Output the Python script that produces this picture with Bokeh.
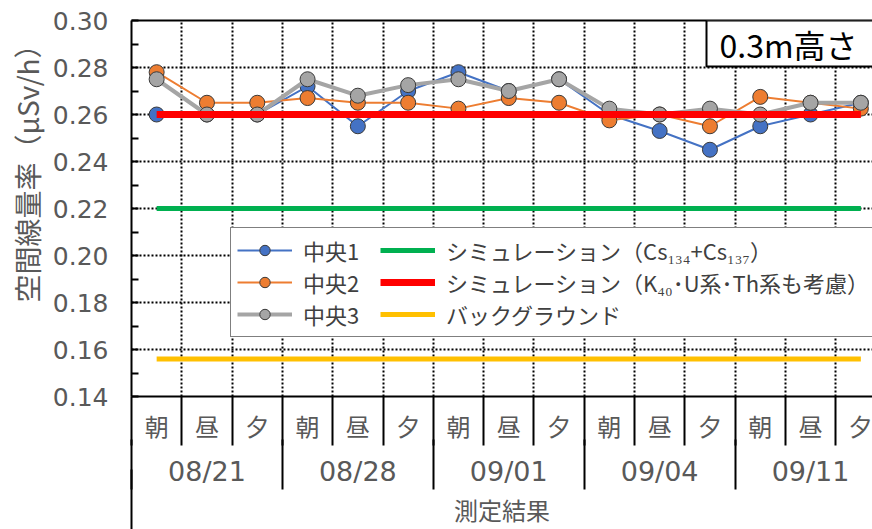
from bokeh.plotting import figure
from bokeh.models import (Range1d, LinearAxis, FixedTicker, Grid, Legend, LegendItem,
                          Label, NumeralTickFormatter)
from bokeh.embed import file_html
from bokeh.resources import INLINE

# ---------------- data ----------------
dates = ["08/21", "08/28", "09/01", "09/04", "09/11"]
times = ["朝", "昼", "夕"]

chuo1 = [0.260, 0.260, 0.260, 0.272, 0.255, 0.270, 0.278, 0.270, 0.275,
         0.260, 0.253, 0.245, 0.255, 0.260, 0.265]
chuo2 = [0.278, 0.265, 0.265, 0.267, 0.265, 0.265, 0.2625, 0.267, 0.265,
         0.2575, 0.260, 0.255, 0.2675, 0.265, 0.2625]
chuo3 = [0.275, 0.260, 0.260, 0.275, 0.268, 0.2725, 0.275, 0.270, 0.275,
         0.2625, 0.260, 0.2625, 0.260, 0.265, 0.265]

sim_cs_value = 0.220
sim_all_value = 0.260
background_value = 0.156

series_names = ["中央1", "中央2", "中央3"]
line_names = ["シミュレーション（Cs₁₃₄+Cs₁₃₇）",
              "シミュレーション（K₄₀･U系･Th系も考慮）",
              "バックグラウンド"]
y_ticks = [0.14, 0.16, 0.18, 0.20, 0.22, 0.24, 0.26, 0.28, 0.30]
y_title = "空間線量率（μSv/h）"
x_title = "測定結果"
box_text = "0.3m高さ"

# ---------------- layout constants ----------------
FONT = "Noto Sans CJK JP"
NUM_FONT = "DejaVu Sans"
GRAY_TXT = "#595959"
W, H = 872, 529
LEFT, TOP, BOTTOM = 131, 20, 133
CAT_W = 50.3
PX_PER_UNIT = 2350.0
n = len(dates) * len(times)
xs = list(range(n))
x_start = -0.5
x_end = x_start + (W - LEFT) / CAT_W

p = figure(width=W, height=H, x_range=Range1d(x_start, x_end), y_range=Range1d(0.14, 0.30),
           x_axis_type=None, y_axis_type=None, output_backend="svg", toolbar_location=None,
           min_border_left=LEFT, min_border_right=0, min_border_top=TOP, min_border_bottom=BOTTOM)
p.outline_line_color = None
p.background_fill_color = "white"
p.border_fill_color = "white"

# grids (dotted)
y_minor = [(a + b) / 2 for a, b in zip(y_ticks[:-1], y_ticks[1:])]
hgrid = Grid(dimension=1, ticker=FixedTicker(ticks=y_ticks[1:-1]),
             grid_line_color="black", grid_line_dash="2 2", grid_line_width=2)
vgrid = Grid(dimension=0, ticker=FixedTicker(ticks=[i + 0.5 for i in xs[:-1]]),
             grid_line_color="black", grid_line_dash="2 2", grid_line_width=2)
p.add_layout(hgrid)
p.add_layout(vgrid)

# y axis (title padded with leading ideographic spaces to sit a little higher)
yaxis = LinearAxis(ticker=FixedTicker(ticks=y_ticks, minor_ticks=y_minor),
                   formatter=NumeralTickFormatter(format="0.00"),
                   axis_label="\u3000\u3000\u3000" + y_title)
yaxis.axis_line_color = "black"
yaxis.axis_line_width = 2
yaxis.major_tick_in = 7
yaxis.major_tick_out = 0
yaxis.minor_tick_in = 7
yaxis.minor_tick_out = 0
yaxis.major_tick_line_width = 2
yaxis.minor_tick_line_width = 2
yaxis.major_label_text_font = NUM_FONT
yaxis.major_label_text_font_size = "25px"
yaxis.major_label_text_color = GRAY_TXT
yaxis.major_label_standoff = 23
yaxis.axis_label_text_font = FONT
yaxis.axis_label_text_font_size = "28px"
yaxis.axis_label_text_font_style = "normal"
yaxis.axis_label_text_color = GRAY_TXT
yaxis.axis_label_standoff = 3
p.add_layout(yaxis, "left")

# top border as an axis line
top_axis = LinearAxis(ticker=FixedTicker(ticks=[]), axis_line_color="black", axis_line_width=2,
                      major_tick_line_color=None, minor_tick_line_color=None,
                      major_tick_out=0, minor_tick_out=0, major_label_standoff=0)
p.add_layout(top_axis, "above")

# category axes (multi-level); separators drawn as inward minor ticks
bounds_all = [i - 0.5 for i in range(n + 1)]
group_bounds = [g * len(times) - 0.5 for g in range(len(dates) + 1)]
time_labels = {i: times[i % len(times)] for i in xs}
date_labels = {g * len(times) + len(times) // 2: d for g, d in enumerate(dates)}

ax_time = LinearAxis(ticker=FixedTicker(ticks=xs, minor_ticks=[]),
                     major_label_overrides=time_labels)
ax_time.axis_line_color = "black"
ax_time.axis_line_width = 2
ax_time.major_tick_line_color = None
ax_time.minor_tick_line_color = None
ax_time.major_tick_out = 0
ax_time.major_tick_in = 0
ax_time.minor_tick_out = 0
ax_time.minor_tick_in = 0
ax_time.major_label_text_font = FONT
ax_time.major_label_text_font_size = "24px"
ax_time.major_label_text_color = GRAY_TXT
ax_time.major_label_standoff = 11
p.add_layout(ax_time, "below")

ax_date = LinearAxis(ticker=FixedTicker(ticks=list(date_labels.keys()), minor_ticks=bounds_all),
                     major_label_overrides=date_labels)
ax_date.axis_line_color = None
ax_date.major_tick_line_color = None
ax_date.major_tick_out = 0
ax_date.major_tick_in = 0
ax_date.minor_tick_out = 0
ax_date.minor_tick_in = 49
ax_date.minor_tick_line_color = "black"
ax_date.minor_tick_line_width = 2
ax_date.major_label_text_font = NUM_FONT
ax_date.major_label_text_font_size = "27px"
ax_date.major_label_text_color = GRAY_TXT
ax_date.major_label_standoff = 10
p.add_layout(ax_date, "below")

ax_title = LinearAxis(ticker=FixedTicker(ticks=[], minor_ticks=group_bounds), axis_label=x_title)
ax_title.axis_line_color = None
ax_title.major_tick_line_color = None
ax_title.major_tick_out = 0
ax_title.minor_tick_out = 0
ax_title.minor_tick_in = 50
ax_title.minor_tick_line_color = "black"
ax_title.minor_tick_line_width = 2
ax_title.major_label_standoff = 0
ax_title.axis_label_text_font = FONT
ax_title.axis_label_text_font_size = "24px"
ax_title.axis_label_text_font_style = "normal"
ax_title.axis_label_text_color = GRAY_TXT
ax_title.axis_label_standoff = 2
p.add_layout(ax_title, "below")

ax_edge = LinearAxis(ticker=FixedTicker(ticks=[], minor_ticks=[x_start]))
ax_edge.axis_line_color = None
ax_edge.major_tick_line_color = None
ax_edge.major_tick_out = 0
ax_edge.minor_tick_out = 0
ax_edge.minor_tick_in = 60
ax_edge.minor_tick_line_color = "black"
ax_edge.minor_tick_line_width = 2
ax_edge.major_label_standoff = 0
p.add_layout(ax_edge, "below")

# series
colors = ["#4472C4", "#ED7D31", "#A5A5A5"]
widths = [2, 2, 4]
items = []
for name, vals, col, w in zip(series_names, [chuo1, chuo2, chuo3], colors, widths):
    rl = p.line(xs, vals, line_color=col, line_width=w)
    rs = p.scatter(xs, vals, size=15, fill_color=col, line_color="#3A3A3A", line_width=1)
    items.append(LegendItem(label=name, renderers=[rl, rs]))

h_colors = ["#00B050", "#FF0000", "#FFC000"]
h_widths = [5, 7, 5]
for name, v, col, w in zip(line_names, [sim_cs_value, sim_all_value, background_value], h_colors, h_widths):
    r = p.line(xs, [v] * n, line_color=col, line_width=w)
    items.append(LegendItem(label=name, renderers=[r]))

legend = Legend(items=items, location=(99, 59), orientation="vertical", nrows=3)
legend.border_line_color = "black"
legend.border_line_width = 1
legend.background_fill_color = "white"
legend.background_fill_alpha = 1
legend.label_text_font = FONT
legend.label_text_font_size = "22px"
legend.label_text_color = "#404040"
legend.glyph_width = 55
legend.glyph_height = 26
legend.label_height = 20
legend.label_width = 77
legend.label_standoff = 11
legend.spacing = 0
legend.padding = 6
legend.margin = 0
p.add_layout(legend)

# "0.3m高さ" box with shadow  (padding order: left, right, top, bottom)
bx = x_start + (706 - LEFT) / CAT_W
by = 0.30 - (43 - TOP) / PX_PER_UNIT
pad = (13, 60, 0, 0)
shadow = Label(x=bx, y=by, text=box_text, text_font=FONT, text_font_size="32px",
               text_baseline="middle", text_align="left", text_alpha=0,
               background_fill_color="#9E9E9E", background_fill_alpha=0.6,
               x_offset=3, y_offset=-4, padding=pad)
box = Label(x=bx, y=by, text=box_text, text_font=FONT, text_font_size="32px",
            text_baseline="middle", text_align="left", text_color="black",
            background_fill_color="white", border_line_color="black", border_line_width=2,
            padding=pad)
p.add_layout(shadow)
p.add_layout(box)

open("out.html", "w").write(file_html(p, INLINE))
